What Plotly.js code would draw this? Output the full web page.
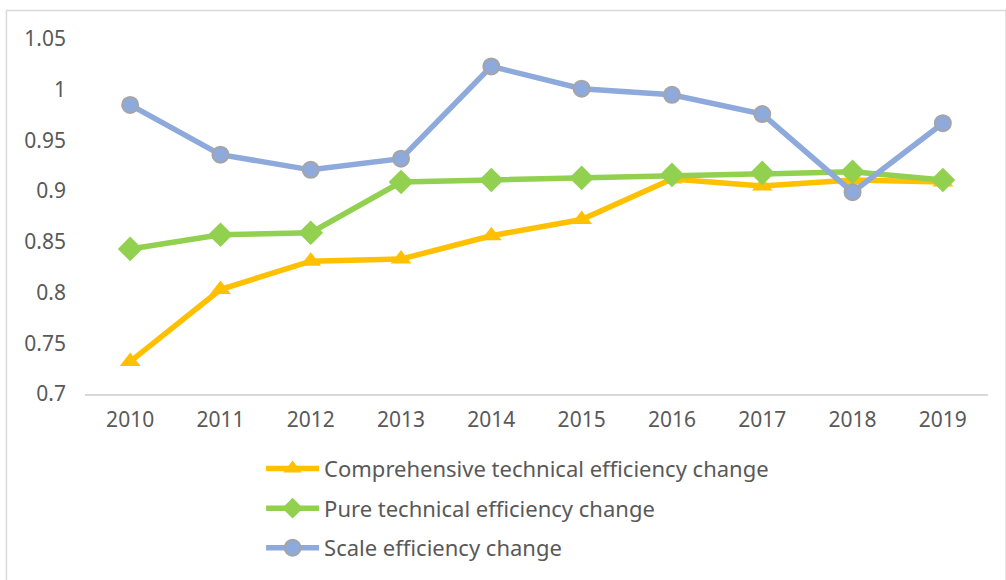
<!DOCTYPE html>
<html>
<head>
<meta charset="utf-8">
<script src="https://cdn.plot.ly/plotly-3.0.1.min.js"></script>
<style>html,body{margin:0;padding:0;background:#fff;}#chart{width:1006px;height:580px;}</style>
</head>
<body>
<div id="chart"></div>
<script>
const years = ['2010','2011','2012','2013','2014','2015','2016','2017','2018','2019'];
const comprehensive = [0.732, 0.803, 0.831, 0.833, 0.856, 0.872, 0.912, 0.905, 0.911, 0.909];
const pureTechnical = [0.843, 0.857, 0.859, 0.909, 0.911, 0.913, 0.916, 0.918, 0.919, 0.911];
const scaleEff = [0.985, 0.936, 0.921, 0.932, 1.023, 1.001, 0.995, 0.976, 0.899, 0.967];
const yTickVals = [0.7, 0.75, 0.8, 0.85, 0.9, 0.95, 1, 1.05];
const yTickText = ['0.7', '0.75', '0.8', '0.85', '0.9', '0.95', '1', '1.05'];
const seriesNames = ['Comprehensive technical efficiency change', 'Pure technical efficiency change', 'Scale efficiency change'];

const FONT = '"Noto Sans", "DejaVu Sans", sans-serif';
const traces = [
  {x: years, y: comprehensive, name: seriesNames[0], legendgroup: 'a', type: 'scatter', mode: 'lines+markers',
   line: {color: '#FFC000', width: 5.5}, marker: {symbol: 'triangle-up', size: 18, color: '#FFC000'}},
  {x: years, y: pureTechnical, name: seriesNames[1], legendgroup: 'b', type: 'scatter', mode: 'lines+markers',
   line: {color: '#92D050', width: 5.5}, marker: {symbol: 'diamond', size: 19, color: '#92D050'}},
  {x: years, y: scaleEff, name: seriesNames[2], legendgroup: 'c', type: 'scatter', mode: 'lines+markers',
   line: {color: '#8EA9DB', width: 5.5}, marker: {symbol: 'circle', size: 16, color: '#8EA9DB', line: {color: '#A5A5A5', width: 2}}}
];
const layout = {
  width: 1006, height: 580,
  margin: {l: 85, r: 18, t: 39, b: 186, autoexpand: false},
  paper_bgcolor: '#fff', plot_bgcolor: '#fff',
  font: {family: FONT, color: '#595959', size: 21},
  showlegend: true,
  legend: {x: 0.195, xanchor: 'left', yref: 'container', y: 0.228, yanchor: 'top', orientation: 'v',
           font: {size: 22, color: '#595959', family: FONT}, tracegroupgap: 8, itemwidth: 53},
  xaxis: {type: 'category', range: [-0.5, 9.5], showgrid: false, zeroline: false, showline: true, linecolor: '#D9D9D9', linewidth: 1.5,
          ticks: '', tickfont: {size: 21, color: '#595959'}, ticklabelstandoff: 6, fixedrange: true},
  yaxis: {range: [0.7, 1.05], tickvals: yTickVals, ticktext: yTickText, showgrid: false, zeroline: false, showline: false,
          ticks: '', tickfont: {size: 21, color: '#595959'}, ticklabelstandoff: 18, fixedrange: true},
  shapes: [{type: 'rect', xref: 'paper', yref: 'paper', x0: -0.087, x1: 1.02, y0: -0.53, y1: 1.08,
            line: {color: '#D9D9D9', width: 1.5}, fillcolor: 'rgba(0,0,0,0)', layer: 'below'}]
};
Plotly.newPlot('chart', traces, layout, {displayModeBar: false, staticPlot: true});
</script>
</body>
</html>
